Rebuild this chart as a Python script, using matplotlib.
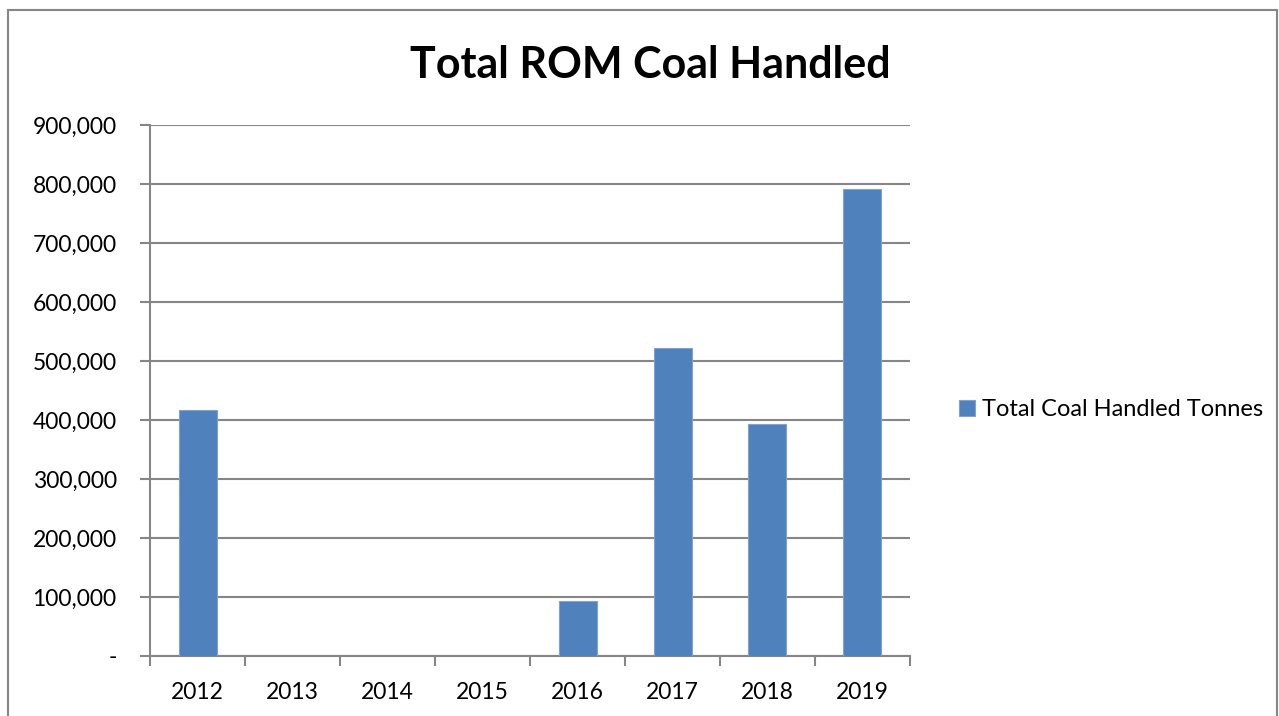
import numpy as np
import matplotlib.pyplot as plt
from matplotlib.patches import Rectangle
from matplotlib.ticker import FuncFormatter

years = ["2012", "2013", "2014", "2015", "2016", "2017", "2018", "2019"]
tonnes = [417000, 0, 0, 0, 93000, 522000, 394000, 792000]
yticks = [0, 100000, 200000, 300000, 400000, 500000, 600000, 700000, 800000, 900000]

plt.rcParams['font.family'] = ['Lato', 'DejaVu Sans']
grey = '#868686'
blue = '#4F81BD'

fig = plt.figure(figsize=(12.79, 7.16), dpi=100)
ax = fig.add_axes([150/1279, 1 - 656/716, 760/1279, 531/716])

x = np.arange(len(years))
ax.bar(x, tonnes, width=0.4, color=blue, edgecolor='#7FA3D0', linewidth=0.8,
       label="Total Coal Handled Tonnes", zorder=3)

ax.set_xlim(-0.5, len(years) - 0.5)
ax.set_ylim(0, 900000)
ax.set_yticks(yticks)
ax.yaxis.set_major_formatter(FuncFormatter(lambda v, p: "-" if v == 0 else f"{int(v):,}"))
ax.grid(axis='y', color=grey, linewidth=1.5, zorder=0)

ax.set_xticks(x)
ax.set_xticklabels(years)
ax.set_xticks(np.arange(-0.5, len(years)), minor=True)
ax.tick_params(axis='x', which='major', length=0, pad=19, labelsize=16.5)
ax.tick_params(axis='x', which='minor', length=7, width=1.5, color=grey)
ax.tick_params(axis='y', length=7, width=1.5, color=grey, labelsize=16.5, pad=17)

for s in ['top', 'right']:
    ax.spines[s].set_visible(False)
for s in ['left', 'bottom']:
    ax.spines[s].set_color(grey)
    ax.spines[s].set_linewidth(1.5)

fig.text(650/1279, 1 - 65/716, "Total ROM Coal Handled", ha='center', va='center',
         fontsize=31, fontweight='bold')

fig.legend(loc='center left', bbox_to_anchor=(938/1279, 1 - 410/716), frameon=False,
           fontsize=17, handlelength=0.65, handleheight=0.65, handletextpad=0.3)

fig.patches.append(Rectangle((8/1279, -0.05), 1269/1279, 1.05 - 10/716, transform=fig.transFigure,
                             fill=False, edgecolor=grey, linewidth=1.5))

fig.savefig("out.png", dpi=100)
